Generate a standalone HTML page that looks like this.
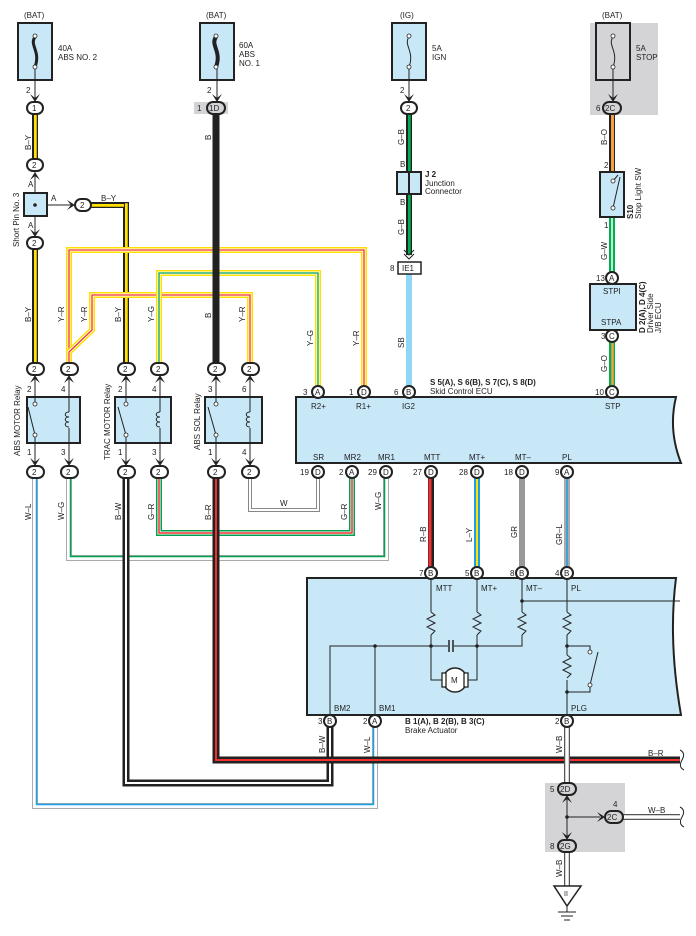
<!DOCTYPE html>
<html><head><meta charset="utf-8"><style>
html,body{margin:0;padding:0;background:#fff}
svg{display:block}
text{font-family:"Liberation Sans",sans-serif;font-size:8px;fill:#222}
.b{font-weight:bold}
.bx{fill:#c8e8f8;stroke:#222;stroke-width:2}
.ov{fill:#fff;stroke:#222;stroke-width:2}
.ln{fill:none;stroke:#222;stroke-width:1}
.w{fill:none;stroke-linejoin:miter}
</style></head><body>
<svg width="696" height="936" viewBox="0 0 696 936" xmlns="http://www.w3.org/2000/svg">
<defs>
<g id="arrD"><path d="M-5,-8 L0,0 L5,-8 L0,-4 Z" fill="#222"/></g>
<g id="arrU"><path d="M-5,8 L0,0 L5,8 L0,4 Z" fill="#222"/></g>
</defs>
<rect x="590" y="23" width="68" height="92" fill="#d4d4d6"/>
<rect x="194" y="102" width="34" height="12" fill="#d4d4d6"/>
<rect x="545" y="783" width="80" height="69" fill="#d4d4d6"/>

<g class="w">
<path d="M35,114V159M35,249V363" stroke="#222" stroke-width="6"/>
<path d="M35,114V159M35,249V363" stroke="#ffe000" stroke-width="3.5"/>
<path d="M33.5,114V159M33.5,249V363" stroke="#222" stroke-width="1"/>
<path d="M91,205H126V363" stroke="#222" stroke-width="6"/>
<path d="M91,205H126V363" stroke="#ffe000" stroke-width="3.5"/>
<path d="M91,203.5H124.5V363" stroke="#222" stroke-width="1"/>
<path d="M69,363V250H364V386" stroke="#ffe000" stroke-width="6"/>
<path d="M69,363V250H364V386" stroke="#fff" stroke-width="3"/>
<path d="M69,363V250H364V386" stroke="#f03030" stroke-width="1.3"/>
<path d="M250,363V295H92V330L69,352" stroke="#ffe000" stroke-width="6"/>
<path d="M250,363V295H92V330L69,352" stroke="#fff" stroke-width="3"/>
<path d="M250,363V295H92V330L69,352" stroke="#f03030" stroke-width="1.3"/>
<path d="M159,363V273H318V386" stroke="#ffe000" stroke-width="6"/>
<path d="M159,363V273H318V386" stroke="#fff" stroke-width="3"/>
<path d="M159,363V273H318V386" stroke="#00a050" stroke-width="1.3"/>
<path d="M216,114V363" stroke="#222" stroke-width="7"/>
<path d="M409,114V255" stroke="#222" stroke-width="6"/>
<path d="M409,114V255" stroke="#00b050" stroke-width="3.5"/>
<path d="M407.5,114V255" stroke="#222" stroke-width="1"/>
<path d="M409,274V386" stroke="#8fd6f7" stroke-width="6"/>
<path d="M612,114V172" stroke="#222" stroke-width="6"/>
<path d="M612.5,114V172" stroke="#f5a040" stroke-width="3"/>
<path d="M612,217V272" stroke="#00b050" stroke-width="6"/>
<path d="M612,217V272" stroke="#fff" stroke-width="1.5"/>
<path d="M612,342V386" stroke="#00b050" stroke-width="6"/>
<path d="M612.5,342V386" stroke="#f5a040" stroke-width="2.5"/>

<path d="M35,478V806H375V727" stroke="#aaa" stroke-width="6"/>
<path d="M35,478V806H375V727" stroke="#fff" stroke-width="4"/>
<path d="M36.5,478V804.5H373.5V727" stroke="#1aa0e8" stroke-width="1.5"/>
<path d="M69,478V558H386V478" stroke="#aaa" stroke-width="6"/>
<path d="M69,478V558H386V478" stroke="#fff" stroke-width="4"/>
<path d="M70.5,478V556.5H384.5V478" stroke="#00a050" stroke-width="1.5"/>
<path d="M126,478V783H330V727" stroke="#222" stroke-width="7"/>
<path d="M126,478V783H330V727" stroke="#fff" stroke-width="2"/>
<path d="M159,478V533H352V478" stroke="#00a050" stroke-width="6"/>
<path d="M159,478V533H352V478" stroke="#fff" stroke-width="3"/>
<path d="M159,478V533H352V478" stroke="#f03030" stroke-width="1.5"/>
<path d="M216,478V760H680" stroke="#222" stroke-width="7"/>
<path d="M216,478V760H680" stroke="#f03030" stroke-width="2"/>
<path d="M250,478V510H318V478" stroke="#888" stroke-width="4"/>
<path d="M250,478V510H318V478" stroke="#fff" stroke-width="2"/>
<path d="M431,478V567" stroke="#222" stroke-width="6"/>
<path d="M430,478V567" stroke="#f03030" stroke-width="3"/>
<path d="M477,478V567" stroke="#1aa0e8" stroke-width="6"/>
<path d="M477,478V567" stroke="#ffe000" stroke-width="2"/>
<path d="M522,478V567" stroke="#999" stroke-width="6"/>
<path d="M567,478V567" stroke="#aaa" stroke-width="6"/>
<path d="M567,478V567" stroke="#1aa0e8" stroke-width="1.5"/>
<path d="M567,727V783M567,852V886M622,817H680" stroke="#555" stroke-width="6"/>
<path d="M567,727V783M567,852V886M622,817H680" stroke="#fff" stroke-width="3.5"/>
</g>
<path d="M680,750q6,3 2,10q-4,7 2,10" class="ln" stroke-width="1.5"/>
<path d="M680,807q6,3 2,10q-4,7 2,10" class="ln" stroke-width="1.5"/>

<g>
<rect x="18" y="23" width="34" height="57" class="bx"/>
<rect x="200" y="23" width="34" height="57" class="bx"/>
<rect x="392" y="23" width="34" height="57" class="bx"/>
<rect x="596" y="23" width="34" height="57" fill="#d4d4d6" stroke="#222" stroke-width="2"/>
<g class="ln" stroke-width="1.2">
<path d="M35,37c-6,8 6,14 0,30" stroke-width="3"/>
<path d="M216,37c-6,8 6,14 0,30" stroke-width="4"/>
<path d="M409,37c-6,8 6,14 0,30"/>
<path d="M613,37c-6,8 6,14 0,30"/>
<path d="M35,67V98M217,67V98M409,67V98M613,67V98"/>
</g>
<g fill="#fff" stroke="#222" stroke-width="0.8">
<circle cx="35" cy="36" r="2"/><circle cx="35" cy="67" r="2"/>
<circle cx="216" cy="36" r="2"/><circle cx="216" cy="67" r="2"/>
<circle cx="409" cy="36" r="2"/><circle cx="409" cy="67" r="2"/>
<circle cx="613" cy="36" r="2"/><circle cx="613" cy="67" r="2"/>
</g>
<text x="24" y="18">(BAT)</text><text x="206" y="18">(BAT)</text>
<text x="400" y="18">(IG)</text><text x="602" y="18">(BAT)</text>
<text x="58" y="51">40A</text><text x="58" y="60">ABS NO. 2</text>
<text x="239" y="48">60A</text><text x="239" y="57">ABS</text><text x="239" y="66">NO. 1</text>
<text x="432" y="51">5A</text><text x="432" y="60">IGN</text>
<text x="636" y="51">5A</text><text x="636" y="60">STOP</text>
<text x="26" y="93">2</text><text x="207" y="93">2</text><text x="400" y="93">2</text>
<use href="#arrD" x="35" y="102"/><use href="#arrD" x="217" y="102"/><use href="#arrD" x="409" y="102"/><use href="#arrD" x="613" y="102"/>
</g>

<g>
<rect x="27" y="102" width="16" height="12" rx="6" class="ov"/><text x="32" y="111">1</text>
<rect x="207" y="102" width="18" height="12" rx="6" class="ov" style="fill:#d4d4d6"/><text x="209" y="111">1D</text><text x="197" y="111">1</text>
<rect x="401" y="102" width="16" height="12" rx="6" class="ov"/><text x="406" y="111">2</text>
<rect x="603" y="102" width="18" height="12" rx="6" class="ov" style="fill:#d4d4d6"/><text x="605" y="111">2C</text><text x="596" y="111">6</text>
<rect x="27" y="159" width="16" height="12" rx="6" class="ov"/><text x="32" y="168">2</text>
<use href="#arrU" x="35" y="172"/>
<path d="M35,172V193M35,216V237M47,205H73" class="ln"/>
<use href="#arrD" x="35" y="237"/>
<use href="#arrD" x="75" y="205" transform="rotate(-90 75 205)"/>
<rect x="24" y="193" width="23" height="23" class="bx" stroke-width="1.5"/>
<circle cx="35" cy="205" r="1.8" fill="#222"/>
<rect x="27" y="237" width="16" height="12" rx="6" class="ov"/><text x="32" y="246">2</text>
<rect x="75" y="199" width="16" height="12" rx="6" class="ov"/><text x="80" y="208">2</text>
<text x="28" y="187">A</text><text x="28" y="228">A</text><text x="51" y="201">A</text>
<text transform="translate(19,247) rotate(-90)">Short Pin No. 3</text>
<text x="101" y="201">B–Y</text>
</g>

<rect x="397" y="172" width="24" height="22" class="bx" stroke-width="1.5"/>
<path d="M409,172V194" stroke="#222" stroke-width="2"/>
<text x="400" y="167">B</text><text x="400" y="205">B</text>
<text x="425" y="177" class="b">J 2</text><text x="425" y="186">Junction</text><text x="425" y="194">Connector</text>
<path d="M404,250l5,5l5,-5M404,254l5,5l5,-5" class="ln" stroke-width="1.5"/>
<rect x="398" y="262" width="23" height="12" fill="#fff" stroke="#222" stroke-width="1.5"/>
<text x="402" y="271">IE1</text><text x="390" y="271">8</text>

<rect x="600" y="172" width="24" height="45" class="bx" stroke-width="1.5"/>
<path d="M613,181L618,175M613,208L620,177" class="ln"/>
<circle cx="613" cy="181" r="2" fill="#fff" stroke="#222" stroke-width="0.8"/>
<circle cx="613" cy="208" r="2" fill="#fff" stroke="#222" stroke-width="0.8"/>
<text x="604" y="168">2</text><text x="604" y="228">1</text>
<text transform="translate(633,219) rotate(-90)" class="b">S10</text>
<text transform="translate(641,219) rotate(-90)">Stop Light SW</text>
<circle cx="612" cy="278" r="6" class="ov"/><text x="609" y="281">A</text><text x="596" y="281">13</text>
<rect x="590" y="284" width="46" height="46" class="bx"/>
<text x="603" y="294">STPI</text><text x="601" y="325">STPA</text>
<circle cx="612" cy="336" r="6" class="ov"/><text x="609" y="339">C</text><text x="601" y="339">3</text>
<text transform="translate(645,333) rotate(-90)" class="b">D 2(A), D 4(C)</text>
<text transform="translate(653,333) rotate(-90)">Driver Side</text>
<text transform="translate(661,333) rotate(-90)">J/B ECU</text>

<g>
<text transform="translate(31,150) rotate(-90)">B–Y</text>
<text transform="translate(31,322) rotate(-90)">B–Y</text>
<text transform="translate(64,322) rotate(-90)">Y–R</text>
<text transform="translate(87,322) rotate(-90)">Y–R</text>
<text transform="translate(121,322) rotate(-90)">B–Y</text>
<text transform="translate(154,322) rotate(-90)">Y–G</text>
<text transform="translate(211,318) rotate(-90)">B</text>
<text transform="translate(245,322) rotate(-90)">Y–R</text>
<text transform="translate(313,346) rotate(-90)">Y–G</text>
<text transform="translate(359,346) rotate(-90)">Y–R</text>
<text transform="translate(211,140) rotate(-90)">B</text>
<text transform="translate(404,145) rotate(-90)">G–B</text>
<text transform="translate(404,235) rotate(-90)">G–B</text>
<text transform="translate(404,348) rotate(-90)">SB</text>
<text transform="translate(607,145) rotate(-90)">B–O</text>
<text transform="translate(607,260) rotate(-90)">G–W</text>
<text transform="translate(607,372) rotate(-90)">G–O</text>
<text transform="translate(31,520) rotate(-90)">W–L</text>
<text transform="translate(64,520) rotate(-90)">W–G</text>
<text transform="translate(121,520) rotate(-90)">B–W</text>
<text transform="translate(154,520) rotate(-90)">G–R</text>
<text transform="translate(211,520) rotate(-90)">B–R</text>
<text x="280" y="506">W</text>
<text transform="translate(347,520) rotate(-90)">G–R</text>
<text transform="translate(381,510) rotate(-90)">W–G</text>
<text transform="translate(426,542) rotate(-90)">R–B</text>
<text transform="translate(472,542) rotate(-90)">L–Y</text>
<text transform="translate(517,538) rotate(-90)">GR</text>
<text transform="translate(562,545) rotate(-90)">GR–L</text>
<text transform="translate(325,753) rotate(-90)">B–W</text>
<text transform="translate(370,753) rotate(-90)">W–L</text>
<text transform="translate(562,753) rotate(-90)">W–B</text>
<text transform="translate(562,877) rotate(-90)">W–B</text>
<text x="648" y="756">B–R</text>
<text x="648" y="813">W–B</text>
</g>

<g>
<rect x="27" y="397" width="53" height="46" class="bx"/>
<rect x="115" y="397" width="56" height="46" class="bx"/>
<rect x="205" y="397" width="57" height="46" class="bx"/>
<g class="ln">
<path d="M35,375V404M35,435V466M69,375V412M69,428V466M126,375V404M126,435V466M160,375V412M160,428V466M216,375V404M216,435V466M250,375V412M250,428V466"/>
<path d="M35,435L28,407M126,435L118,407M216,435L208,407"/>
<path d="M69,412c-5,0 -5,5 0,5c-5,0 -5,5 0,5c-5,0 -5,5 0,5M160,412c-5,0 -5,5 0,5c-5,0 -5,5 0,5c-5,0 -5,5 0,5M250,412c-5,0 -5,5 0,5c-5,0 -5,5 0,5c-5,0 -5,5 0,5"/>
</g>
<g fill="#fff" stroke="#222" stroke-width="0.8">
<circle cx="35" cy="404" r="2"/><circle cx="35" cy="435" r="2"/>
<circle cx="126" cy="404" r="2"/><circle cx="126" cy="435" r="2"/>
<circle cx="216" cy="404" r="2"/><circle cx="216" cy="435" r="2"/>
</g>
<g>
<use href="#arrU" x="35" y="375"/><use href="#arrU" x="69" y="375"/><use href="#arrU" x="126" y="375"/><use href="#arrU" x="160" y="375"/><use href="#arrU" x="216" y="375"/><use href="#arrU" x="250" y="375"/>
<use href="#arrD" x="35" y="466"/><use href="#arrD" x="69" y="466"/><use href="#arrD" x="126" y="466"/><use href="#arrD" x="160" y="466"/><use href="#arrD" x="216" y="466"/><use href="#arrD" x="250" y="466"/>
</g>
<g>
<rect x="27" y="363" width="17" height="12" rx="6" class="ov"/><text x="32" y="372">2</text>
<rect x="61" y="363" width="17" height="12" rx="6" class="ov"/><text x="66" y="372">2</text>
<rect x="118" y="363" width="17" height="12" rx="6" class="ov"/><text x="123" y="372">2</text>
<rect x="151" y="363" width="17" height="12" rx="6" class="ov"/><text x="156" y="372">2</text>
<rect x="208" y="363" width="17" height="12" rx="6" class="ov"/><text x="213" y="372">2</text>
<rect x="242" y="363" width="17" height="12" rx="6" class="ov"/><text x="247" y="372">2</text>
<rect x="27" y="466" width="17" height="12" rx="6" class="ov"/><text x="32" y="475">2</text>
<rect x="61" y="466" width="17" height="12" rx="6" class="ov"/><text x="66" y="475">2</text>
<rect x="118" y="466" width="17" height="12" rx="6" class="ov"/><text x="123" y="475">2</text>
<rect x="151" y="466" width="17" height="12" rx="6" class="ov"/><text x="156" y="475">2</text>
<rect x="208" y="466" width="17" height="12" rx="6" class="ov"/><text x="213" y="475">2</text>
<rect x="242" y="466" width="17" height="12" rx="6" class="ov"/><text x="247" y="475">2</text>
</g>
<text x="27" y="392">2</text><text x="61" y="392">4</text><text x="118" y="392">2</text><text x="152" y="392">4</text><text x="208" y="392">3</text><text x="242" y="392">6</text>
<text x="27" y="455">1</text><text x="61" y="455">3</text><text x="118" y="455">1</text><text x="152" y="455">3</text><text x="208" y="455">1</text><text x="242" y="455">4</text>
<text transform="translate(20,456) rotate(-90)">ABS MOTOR Relay</text>
<text transform="translate(110,460) rotate(-90)">TRAC MOTOR Relay</text>
<text transform="translate(200,450) rotate(-90)">ABS SOL Relay</text>
</g>

<path d="M296,397H676Q668,430 681,463H296Z" class="bx"/>
<text x="430" y="385" class="b">S 5(A), S 6(B), S 7(C), S 8(D)</text>
<text x="430" y="394">Skid Control ECU</text>
<text x="311" y="409">R2+</text><text x="356" y="409">R1+</text><text x="402" y="409">IG2</text><text x="605" y="409">STP</text>
<text x="313" y="460">SR</text><text x="344" y="460">MR2</text><text x="378" y="460">MR1</text><text x="424" y="460">MTT</text><text x="469" y="460">MT+</text><text x="515" y="460">MT–</text><text x="562" y="460">PL</text>
<g>
<circle cx="318" cy="392" r="6" class="ov"/><text x="315" y="395">A</text><text x="303" y="395">3</text>
<circle cx="364" cy="392" r="6" class="ov"/><text x="361" y="395">D</text><text x="349" y="395">1</text>
<circle cx="409" cy="392" r="6" class="ov"/><text x="406" y="395">B</text><text x="394" y="395">6</text>
<circle cx="612" cy="392" r="6" class="ov"/><text x="609" y="395">C</text><text x="595" y="395">10</text>
<circle cx="318" cy="472" r="6" class="ov"/><text x="315" y="475">D</text><text x="300" y="475">19</text>
<circle cx="352" cy="472" r="6" class="ov"/><text x="349" y="475">A</text><text x="339" y="475">2</text>
<circle cx="386" cy="472" r="6" class="ov"/><text x="383" y="475">D</text><text x="368" y="475">29</text>
<circle cx="431" cy="472" r="6" class="ov"/><text x="428" y="475">D</text><text x="413" y="475">27</text>
<circle cx="477" cy="472" r="6" class="ov"/><text x="474" y="475">D</text><text x="459" y="475">28</text>
<circle cx="522" cy="472" r="6" class="ov"/><text x="519" y="475">D</text><text x="504" y="475">18</text>
<circle cx="567" cy="472" r="6" class="ov"/><text x="564" y="475">A</text><text x="555" y="475">9</text>
</g>

<path d="M307,578H676Q668,640 681,715H307Z" class="bx"/>
<g class="ln">
<path d="M431,578V612M431,635V646M477,578V612M477,635V646M522,578V612M522,635V646H453M449,646H330V715M375,646V715M522,601H680M567,578V612M567,635V655M567,680V715M431,646V680H444M477,646V680H466M567,646H590V650M567,692H590V685"/>
<path d="M431,612l4,3l-8,4l8,4l-8,4l8,4l-4,4M477,612l4,3l-8,4l8,4l-8,4l8,4l-4,4M522,612l4,3l-8,4l8,4l-8,4l8,4l-4,4M567,612l4,3l-8,4l8,4l-8,4l8,4l-4,4M567,655l4,3l-8,4l8,4l-8,4l8,4l-4,4"/>
<path d="M590,685L598,652"/>
</g>
<rect x="448" y="640" width="6" height="12" fill="#c8e8f8"/>
<path d="M449,640V652M453,640V652" stroke="#222" stroke-width="1.5"/>
<circle cx="455" cy="680" r="12" fill="#fff" stroke="#222" stroke-width="1.5"/>
<rect x="442" y="673" width="4" height="14" fill="#fff" stroke="#222" stroke-width="1.3"/>
<rect x="464" y="673" width="4" height="14" fill="#fff" stroke="#222" stroke-width="1.3"/>
<text x="451" y="683">M</text>
<g fill="#222"><circle cx="375" cy="646" r="1.8"/><circle cx="431" cy="646" r="1.8"/><circle cx="477" cy="646" r="1.8"/><circle cx="522" cy="601" r="1.8"/><circle cx="567" cy="646" r="1.8"/><circle cx="567" cy="692" r="1.8"/></g>
<g fill="#fff" stroke="#222" stroke-width="0.8"><circle cx="590" cy="652" r="2"/><circle cx="590" cy="685" r="2"/></g>
<text x="436" y="591">MTT</text><text x="481" y="591">MT+</text><text x="526" y="591">MT–</text><text x="571" y="591">PL</text>
<text x="334" y="711">BM2</text><text x="379" y="711">BM1</text><text x="571" y="711">PLG</text>
<text x="405" y="724" class="b">B 1(A), B 2(B), B 3(C)</text>
<text x="405" y="733">Brake Actuator</text>
<g>
<circle cx="431" cy="573" r="6" class="ov"/><text x="428" y="576">B</text><text x="419" y="576">7</text>
<circle cx="477" cy="573" r="6" class="ov"/><text x="474" y="576">B</text><text x="465" y="576">5</text>
<circle cx="522" cy="573" r="6" class="ov"/><text x="519" y="576">B</text><text x="510" y="576">8</text>
<circle cx="567" cy="573" r="6" class="ov"/><text x="564" y="576">B</text><text x="555" y="576">4</text>
<circle cx="330" cy="721" r="6" class="ov"/><text x="327" y="724">B</text><text x="318" y="724">3</text>
<circle cx="375" cy="721" r="6" class="ov"/><text x="372" y="724">A</text><text x="363" y="724">2</text>
<circle cx="567" cy="721" r="6" class="ov"/><text x="564" y="724">B</text><text x="555" y="724">2</text>
</g>

<path d="M567,795V840M567,817H600" class="ln" stroke-width="1.2"/>
<circle cx="567" cy="817" r="1.8" fill="#222"/>
<use href="#arrU" x="567" y="795"/>
<use href="#arrD" x="567" y="840"/>
<use href="#arrD" x="605" y="817" transform="rotate(-90 605 817)"/>
<rect x="558" y="783" width="18" height="12" rx="6" class="ov" style="fill:#d4d4d6"/><text x="560" y="792">2D</text><text x="550" y="792">5</text>
<rect x="558" y="840" width="18" height="12" rx="6" class="ov" style="fill:#d4d4d6"/><text x="560" y="849">2G</text><text x="550" y="849">8</text>
<rect x="605" y="811" width="18" height="12" rx="6" class="ov" style="fill:#d4d4d6"/><text x="607" y="820">2C</text><text x="613" y="807">4</text>
<path d="M554,886H581L567,906Z" fill="#fff" stroke="#222" stroke-width="1.5"/>
<text x="564" y="896" style="font-size:7px">II</text>
<path d="M567,906V912M558,912H576M561,916H573M564,920H570" class="ln" stroke-width="1.2"/>
</svg>
</body></html>
